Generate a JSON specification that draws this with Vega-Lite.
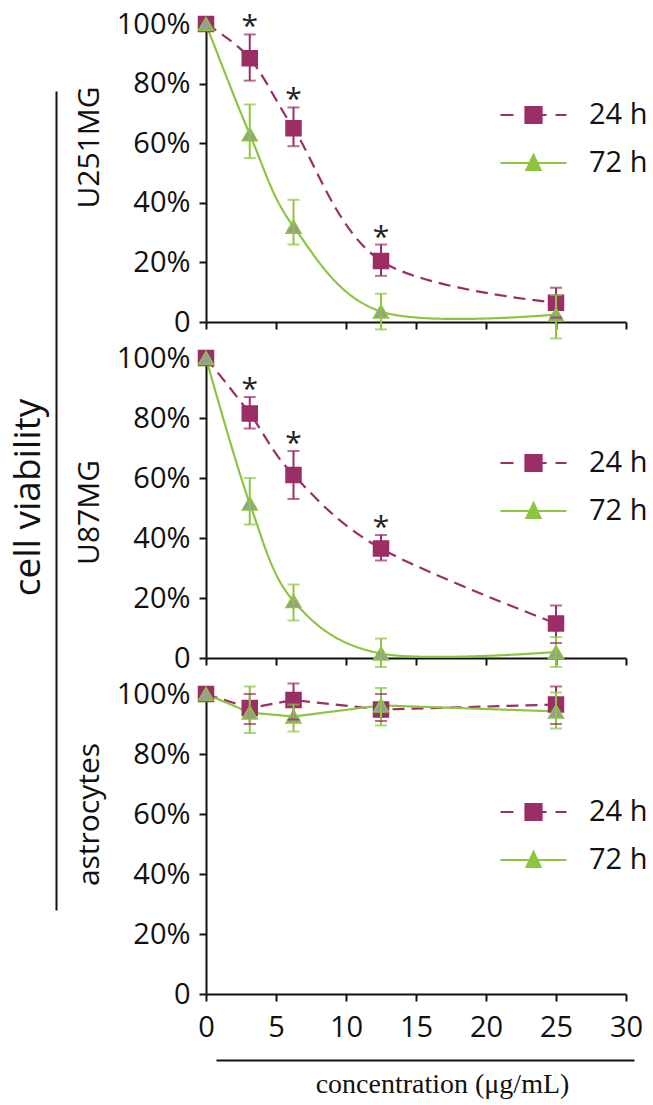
{
  "$schema": "https://vega.github.io/schema/vega-lite/v6.json",
  "background": "white",
  "padding": {"left": 9, "top": 10, "right": 5, "bottom": 5},
  "bounds": "flush",
  "spacing": 36,
  "datasets": {
    "d": [
      {"cell": "U251MG", "time": "24 h", "conc": 0, "mean": 100, "lo": null, "hi": null},
      {"cell": "U251MG", "time": "24 h", "conc": 3.125, "mean": 88.5, "lo": 81, "hi": 96.5, "sig": "*"},
      {"cell": "U251MG", "time": "24 h", "conc": 6.25, "mean": 65, "lo": 59, "hi": 72, "sig": "*"},
      {"cell": "U251MG", "time": "24 h", "conc": 12.5, "mean": 20.5, "lo": 15.5, "hi": 26, "sig": "*"},
      {"cell": "U251MG", "time": "24 h", "conc": 25, "mean": 6.5, "lo": 1.5, "hi": 11.5},
      {"cell": "U251MG", "time": "72 h", "conc": 0, "mean": 100, "lo": null, "hi": null},
      {"cell": "U251MG", "time": "72 h", "conc": 3.125, "mean": 63, "lo": 55, "hi": 73},
      {"cell": "U251MG", "time": "72 h", "conc": 6.25, "mean": 32, "lo": 26, "hi": 41},
      {"cell": "U251MG", "time": "72 h", "conc": 12.5, "mean": 3.5, "lo": -2.5, "hi": 9.5},
      {"cell": "U251MG", "time": "72 h", "conc": 25, "mean": 2.5, "lo": -5.5, "hi": 9},
      {"cell": "U87MG", "time": "24 h", "conc": 0, "mean": 100, "lo": null, "hi": null},
      {"cell": "U87MG", "time": "24 h", "conc": 3.125, "mean": 81.5, "lo": 76.5, "hi": 87, "sig": "*"},
      {"cell": "U87MG", "time": "24 h", "conc": 6.25, "mean": 61, "lo": 53, "hi": 69, "sig": "*"},
      {"cell": "U87MG", "time": "24 h", "conc": 12.5, "mean": 36.5, "lo": 32.5, "hi": 41, "sig": "*"},
      {"cell": "U87MG", "time": "24 h", "conc": 25, "mean": 11.5, "lo": 5, "hi": 17.5},
      {"cell": "U87MG", "time": "72 h", "conc": 0, "mean": 100, "lo": null, "hi": null},
      {"cell": "U87MG", "time": "72 h", "conc": 3.125, "mean": 51.5, "lo": 44.5, "hi": 60},
      {"cell": "U87MG", "time": "72 h", "conc": 6.25, "mean": 19, "lo": 12.5, "hi": 24.5},
      {"cell": "U87MG", "time": "72 h", "conc": 12.5, "mean": 1.5, "lo": -3, "hi": 6.5},
      {"cell": "U87MG", "time": "72 h", "conc": 25, "mean": 2, "lo": -3, "hi": 7},
      {"cell": "astrocytes", "time": "24 h", "conc": 0, "mean": 100, "lo": null, "hi": null},
      {"cell": "astrocytes", "time": "24 h", "conc": 3.125, "mean": 95.3, "lo": 90, "hi": 100},
      {"cell": "astrocytes", "time": "24 h", "conc": 6.25, "mean": 98, "lo": 91.5, "hi": 103.5},
      {"cell": "astrocytes", "time": "24 h", "conc": 12.5, "mean": 94.8, "lo": 91, "hi": 100},
      {"cell": "astrocytes", "time": "24 h", "conc": 25, "mean": 96.5, "lo": 90, "hi": 102.5},
      {"cell": "astrocytes", "time": "72 h", "conc": 0, "mean": 100, "lo": null, "hi": null},
      {"cell": "astrocytes", "time": "72 h", "conc": 3.125, "mean": 93.8, "lo": 87, "hi": 102.5},
      {"cell": "astrocytes", "time": "72 h", "conc": 6.25, "mean": 92.5, "lo": 87.5, "hi": 96.5},
      {"cell": "astrocytes", "time": "72 h", "conc": 12.5, "mean": 96.2, "lo": 89.5, "hi": 102},
      {"cell": "astrocytes", "time": "72 h", "conc": 25, "mean": 94.2, "lo": 88.5, "hi": 100.5}
    ]
  },
  "config": {
    "view": {"stroke": null},
    "axis": {
      "domainColor": "#111111", "domainWidth": 2, "tickColor": "#111111", "tickWidth": 2, "tickSize": 7,
      "grid": false, "labelFont": "Open Sans", "labelFontSize": 29, "labelColor": "#111111", "labelPadding": 9,
      "labelFlush": false, "labelOverlap": false,
      "titleFont": "Open Sans", "titleFontSize": 30, "titleFontWeight": "normal", "titleColor": "#111111"
    },
    "legend": {
      "labelFont": "Open Sans", "labelFontSize": 29, "labelColor": "#111111", "padding": 0
    }
  },
  "resolve": {
    "scale": {"x": "independent", "y": "independent", "color": "independent"},
    "legend": {"color": "independent"}
  },
  "vconcat": [
    {
      "width": 420, "height": 298,
      "data": {"name": "d"},
      "transform": [{"filter": "datum.cell == 'U251MG'"}],
      "layer": [
        {
          "mark": {"type": "line", "interpolate": "cardinal", "strokeWidth": 2.2},
          "encoding": {
            "x": {"field": "conc", "type": "quantitative", "scale": {"domain": [0, 30], "nice": false},
                  "axis": {"values": [0, 5, 10, 15, 20, 25, 30], "labels": false, "title": null}},
            "y": {"field": "mean", "type": "quantitative", "scale": {"domain": [0, 100], "nice": false},
                  "axis": {"values": [0, 20, 40, 60, 80, 100], "labelExpr": "datum.value == 0 ? '0' : datum.value + '%'",
                           "title": "U251MG", "titleX": -108, "titleY": 123, "titleBaseline": "alphabetic", "titleAngle": -90, "titleAlign": "center"}},
            "color": {"field": "time", "type": "nominal", "scale": {"domain": ["24 h", "72 h"], "range": ["#9B2D67", "#8CC63F"]},
                      "legend": {"orient": "none", "legendX": 313, "legendY": 76.5, "title": null, "symbolSize": 400, "labelOffset": 41, "rowPadding": 18,
                                 "encode": {"symbols": {"update": {
                                   "shape": {"signal": "datum.value === '24 h' ? 'M-3.3,0H-2M-0.8,-0.8H0.8V0.8H-0.8ZM0.8,0H1.3M2.2,0H3.3' : 'M-3.3,0H-0.37M0.37,0H3.3M0,-0.8L0.7,0.7H-0.7Z'"},
                                   "fill": {"signal": "datum.value === '24 h' ? '#9B2D67' : '#9A9A9A'"},
                                   "stroke": {"signal": "datum.value === '24 h' ? '#9B2D67' : '#8CC63F'"},
                                   "strokeWidth": {"value": 2.2}, "strokeDash": {"value": []}, "opacity": {"value": 1}, "fillOpacity": {"value": 1}, "strokeOpacity": {"value": 1}}}}}},
            "strokeDash": {"field": "time", "type": "nominal", "scale": {"domain": ["24 h", "72 h"], "range": [[12, 7], [1, 0]]}, "legend": null}
          }
        },
        {
          "mark": {"type": "point", "filled": true, "size": 225, "strokeWidth": 1.5, "opacity": 1},
          "encoding": {
            "x": {"field": "conc", "type": "quantitative"},
            "y": {"field": "mean", "type": "quantitative"},
            "shape": {"field": "time", "type": "nominal", "scale": {"domain": ["24 h", "72 h"], "range": ["square", "triangle-up"]}, "legend": null},
            "fill": {"field": "time", "type": "nominal", "scale": {"domain": ["24 h", "72 h"], "range": ["#9B2D67", "#9A9A9A"]}, "legend": null},
            "stroke": {"field": "time", "type": "nominal", "scale": {"domain": ["24 h", "72 h"], "range": ["#9B2D67", "#8CC63F"]}, "legend": null}
          }
        },
        {
          "transform": [{"filter": "isValid(datum.lo)"}],
          "mark": {"type": "rule", "strokeWidth": 2},
          "encoding": {
            "x": {"field": "conc", "type": "quantitative"},
            "y": {"field": "lo", "type": "quantitative"},
            "y2": {"field": "hi"},
            "color": {"field": "time", "type": "nominal"}
          }
        },
        {
          "transform": [{"filter": "isValid(datum.lo)"}],
          "mark": {"type": "tick", "orient": "horizontal", "size": 12, "thickness": 2},
          "encoding": {
            "x": {"field": "conc", "type": "quantitative"},
            "y": {"field": "lo", "type": "quantitative"},
            "color": {"field": "time", "type": "nominal"}
          }
        },
        {
          "transform": [{"filter": "isValid(datum.hi)"}],
          "mark": {"type": "tick", "orient": "horizontal", "size": 12, "thickness": 2},
          "encoding": {
            "x": {"field": "conc", "type": "quantitative"},
            "y": {"field": "hi", "type": "quantitative"},
            "color": {"field": "time", "type": "nominal"}
          }
        },
        {
          "transform": [{"filter": "isValid(datum.sig)"}],
          "mark": {"type": "text", "font": "Open Sans", "fontSize": 30, "baseline": "alphabetic", "dy": 2, "color": "#222222"},
          "encoding": {
            "x": {"field": "conc", "type": "quantitative"},
            "y": {"field": "hi", "type": "quantitative"},
            "text": {"field": "sig"}
          }
        }
      ]
    },
    {
      "width": 420, "height": 300,
      "data": {"name": "d"},
      "transform": [{"filter": "datum.cell == 'U87MG'"}],
      "resolve": {"scale": {"y": "independent"}, "axis": {"y": "independent"}},
      "layer": [
        {
          "layer": [
            {
              "mark": {"type": "line", "interpolate": "cardinal", "strokeWidth": 2.2},
              "encoding": {
                "x": {"field": "conc", "type": "quantitative", "scale": {"domain": [0, 30], "nice": false},
                      "axis": {"values": [0, 5, 10, 15, 20, 25, 30], "labels": false, "title": null}},
                "y": {"field": "mean", "type": "quantitative", "scale": {"domain": [0, 100], "nice": false},
                      "axis": {"orient": "left", "values": [0, 20, 40, 60, 80, 100], "labelExpr": "datum.value == 0 ? '0' : datum.value + '%'",
                               "title": "U87MG", "titleX": -108, "titleY": 154, "titleBaseline": "alphabetic", "titleAngle": -90, "titleAlign": "center"}},
                "color": {"field": "time", "type": "nominal", "scale": {"domain": ["24 h", "72 h"], "range": ["#9B2D67", "#8CC63F"]},
                          "legend": {"orient": "none", "legendX": 313, "legendY": 90.5, "title": null, "symbolSize": 400, "labelOffset": 41, "rowPadding": 18,
                                     "encode": {"symbols": {"update": {
                                       "shape": {"signal": "datum.value === '24 h' ? 'M-3.3,0H-2M-0.8,-0.8H0.8V0.8H-0.8ZM0.8,0H1.3M2.2,0H3.3' : 'M-3.3,0H-0.37M0.37,0H3.3M0,-0.8L0.7,0.7H-0.7Z'"},
                                       "fill": {"signal": "datum.value === '24 h' ? '#9B2D67' : '#9A9A9A'"},
                                       "stroke": {"signal": "datum.value === '24 h' ? '#9B2D67' : '#8CC63F'"},
                                       "strokeWidth": {"value": 2.2}, "strokeDash": {"value": []}, "opacity": {"value": 1}, "fillOpacity": {"value": 1}, "strokeOpacity": {"value": 1}}}}}},
                "strokeDash": {"field": "time", "type": "nominal", "scale": {"domain": ["24 h", "72 h"], "range": [[12, 7], [1, 0]]}, "legend": null}
              }
            },
            {
              "mark": {"type": "point", "filled": true, "size": 225, "strokeWidth": 1.5, "opacity": 1},
              "encoding": {
                "x": {"field": "conc", "type": "quantitative"},
                "y": {"field": "mean", "type": "quantitative"},
                "shape": {"field": "time", "type": "nominal", "scale": {"domain": ["24 h", "72 h"], "range": ["square", "triangle-up"]}, "legend": null},
                "fill": {"field": "time", "type": "nominal", "scale": {"domain": ["24 h", "72 h"], "range": ["#9B2D67", "#9A9A9A"]}, "legend": null},
                "stroke": {"field": "time", "type": "nominal", "scale": {"domain": ["24 h", "72 h"], "range": ["#9B2D67", "#8CC63F"]}, "legend": null}
              }
            },
            {
              "transform": [{"filter": "isValid(datum.lo)"}],
              "mark": {"type": "rule", "strokeWidth": 2},
              "encoding": {
                "x": {"field": "conc", "type": "quantitative"},
                "y": {"field": "lo", "type": "quantitative"},
                "y2": {"field": "hi"},
                "color": {"field": "time", "type": "nominal"}
              }
            },
            {
              "transform": [{"filter": "isValid(datum.lo)"}],
              "mark": {"type": "tick", "orient": "horizontal", "size": 12, "thickness": 2},
              "encoding": {
                "x": {"field": "conc", "type": "quantitative"},
                "y": {"field": "lo", "type": "quantitative"},
                "color": {"field": "time", "type": "nominal"}
              }
            },
            {
              "transform": [{"filter": "isValid(datum.hi)"}],
              "mark": {"type": "tick", "orient": "horizontal", "size": 12, "thickness": 2},
              "encoding": {
                "x": {"field": "conc", "type": "quantitative"},
                "y": {"field": "hi", "type": "quantitative"},
                "color": {"field": "time", "type": "nominal"}
              }
            },
            {
              "transform": [{"filter": "isValid(datum.sig)"}],
              "mark": {"type": "text", "font": "Open Sans", "fontSize": 30, "baseline": "alphabetic", "dy": 2, "color": "#222222"},
              "encoding": {
                "x": {"field": "conc", "type": "quantitative"},
                "y": {"field": "hi", "type": "quantitative"},
                "text": {"field": "sig"}
              }
            }
          ]
        },
        {
          "mark": {"type": "point", "opacity": 0, "size": 1},
          "encoding": {
            "y": {"datum": 0.5, "type": "quantitative", "scale": {"domain": [0, 1], "range": [552, -267]},
                  "axis": {"orient": "left", "offset": 150, "ticks": false, "labels": false, "title": "cell viability",
                           "titleFontSize": 37, "titlePadding": 17, "titleBaseline": "alphabetic", "titleY": 139, "titleAngle": -90, "titleAlign": "center"}}
          }
        }
      ]
    },
    {
      "width": 420, "height": 300,
      "data": {"name": "d"},
      "transform": [{"filter": "datum.cell == 'astrocytes'"}],
      "resolve": {"scale": {"x": "independent"}, "axis": {"x": "independent"}},
      "layer": [
        {
          "layer": [
            {
              "mark": {"type": "line", "interpolate": "linear", "strokeWidth": 2.2},
              "encoding": {
                "x": {"field": "conc", "type": "quantitative", "scale": {"domain": [0, 30], "nice": false},
                      "axis": {"orient": "bottom", "values": [0, 5, 10, 15, 20, 25, 30], "labelPadding": 12, "title": null}},
                "y": {"field": "mean", "type": "quantitative", "scale": {"domain": [0, 100], "nice": false},
                      "axis": {"values": [0, 20, 40, 60, 80, 100], "labelExpr": "datum.value == 0 ? '0' : datum.value + '%'",
                               "title": "astrocytes", "titleX": -108, "titleY": 120, "titleBaseline": "alphabetic", "titleAngle": -90, "titleAlign": "center"}},
                "color": {"field": "time", "type": "nominal", "scale": {"domain": ["24 h", "72 h"], "range": ["#9B2D67", "#8CC63F"]},
                          "legend": {"orient": "none", "legendX": 313, "legendY": 103.5, "title": null, "symbolSize": 400, "labelOffset": 41, "rowPadding": 18,
                                     "encode": {"symbols": {"update": {
                                       "shape": {"signal": "datum.value === '24 h' ? 'M-3.3,0H-2M-0.8,-0.8H0.8V0.8H-0.8ZM0.8,0H1.3M2.2,0H3.3' : 'M-3.3,0H-0.37M0.37,0H3.3M0,-0.8L0.7,0.7H-0.7Z'"},
                                       "fill": {"signal": "datum.value === '24 h' ? '#9B2D67' : '#9A9A9A'"},
                                       "stroke": {"signal": "datum.value === '24 h' ? '#9B2D67' : '#8CC63F'"},
                                       "strokeWidth": {"value": 2.2}, "strokeDash": {"value": []}, "opacity": {"value": 1}, "fillOpacity": {"value": 1}, "strokeOpacity": {"value": 1}}}}}},
                "strokeDash": {"field": "time", "type": "nominal", "scale": {"domain": ["24 h", "72 h"], "range": [[12, 7], [1, 0]]}, "legend": null}
              }
            },
            {
              "mark": {"type": "point", "filled": true, "size": 225, "strokeWidth": 1.5, "opacity": 1},
              "encoding": {
                "x": {"field": "conc", "type": "quantitative"},
                "y": {"field": "mean", "type": "quantitative"},
                "shape": {"field": "time", "type": "nominal", "scale": {"domain": ["24 h", "72 h"], "range": ["square", "triangle-up"]}, "legend": null},
                "fill": {"field": "time", "type": "nominal", "scale": {"domain": ["24 h", "72 h"], "range": ["#9B2D67", "#9A9A9A"]}, "legend": null},
                "stroke": {"field": "time", "type": "nominal", "scale": {"domain": ["24 h", "72 h"], "range": ["#9B2D67", "#8CC63F"]}, "legend": null}
              }
            },
            {
              "transform": [{"filter": "isValid(datum.lo)"}],
              "mark": {"type": "rule", "strokeWidth": 2},
              "encoding": {
                "x": {"field": "conc", "type": "quantitative"},
                "y": {"field": "lo", "type": "quantitative"},
                "y2": {"field": "hi"},
                "color": {"field": "time", "type": "nominal"}
              }
            },
            {
              "transform": [{"filter": "isValid(datum.lo)"}],
              "mark": {"type": "tick", "orient": "horizontal", "size": 12, "thickness": 2},
              "encoding": {
                "x": {"field": "conc", "type": "quantitative"},
                "y": {"field": "lo", "type": "quantitative"},
                "color": {"field": "time", "type": "nominal"}
              }
            },
            {
              "transform": [{"filter": "isValid(datum.hi)"}],
              "mark": {"type": "tick", "orient": "horizontal", "size": 12, "thickness": 2},
              "encoding": {
                "x": {"field": "conc", "type": "quantitative"},
                "y": {"field": "hi", "type": "quantitative"},
                "color": {"field": "time", "type": "nominal"}
              }
            }
          ]
        },
        {
          "mark": {"type": "point", "opacity": 0, "size": 1},
          "encoding": {
            "x": {"datum": 0.5, "type": "quantitative", "scale": {"domain": [0, 1], "range": [10, 428]},
                  "axis": {"orient": "bottom", "offset": 66, "ticks": false, "labels": false, "title": "concentration (μg/mL)",
                           "titleFont": "Liberation Serif", "titleFontSize": 28, "titleX": 236, "titlePadding": 32, "titleBaseline": "alphabetic"}}
          }
        }
      ]
    }
  ]
}
